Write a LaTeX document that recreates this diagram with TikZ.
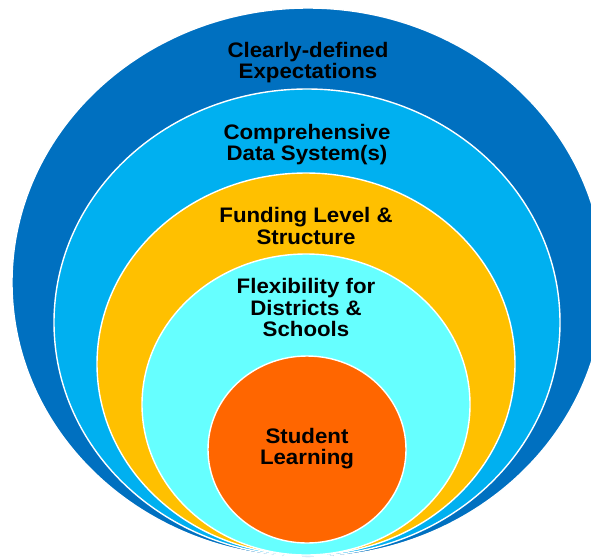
\documentclass[tikz,border=0pt]{standalone}
\usepackage{fontspec}
\newfontfamily\ringfont{Liberation Sans}[FakeStretch=1.06]
\usetikzlibrary{shapes.geometric,positioning}

\definecolor{expectblue}{HTML}{0070C0}
\definecolor{datablue}{HTML}{00B0F0}
\definecolor{fundgold}{HTML}{FFC000}
\definecolor{flexcyan}{HTML}{66FFFF}
\definecolor{learnorange}{HTML}{FF6600}

\begin{document}
\begin{tikzpicture}[x=1pt,y=-1pt,
    ring/.style={ellipse,draw=white,line width=1.4pt,inner sep=0pt},
    ring label/.style={font=\ringfont\bfseries\fontsize{21}{21.5}\selectfont,
        align=center,inner sep=0pt,text=black}]

\useasboundingbox (0,0) rectangle (591,558);

% rings, outside in
\node [ring, fill=expectblue, minimum width=592pt, minimum height=549pt] (expect) at (308,282.5) {};
\node [ring, fill=datablue, minimum width=506pt, minimum height=467pt] (data) at (307,322.5) {};
\node [ring, fill=fundgold, minimum width=418pt, minimum height=382pt] (fund) at (306,364) {};
\node [ring, fill=flexcyan, minimum width=328pt, minimum height=301pt] (flex) at (306,404.5) {};
\node [ring, fill=learnorange, minimum width=198pt, minimum height=187pt] (learn) at (307,449.5) {};

% labels
\node [ring label, below=34.5pt of expect.north] (expectlbl) {Clearly-defined\\Expectations};
\node [ring label, below=35.5pt of data.north] (datalbl) {Comprehensive\\Data System(s)};
\node [ring label, below=35pt of fund.north] (fundlbl) {Funding Level \&\\Structure};
\node [ring label, below=25pt of flex.north] (flexlbl) {Flexibility for\\Districts \&\\Schools};
\node [ring label, below=72.5pt of learn.north] (learnlbl) {Student\\Learning};

\end{tikzpicture}
\end{document}
